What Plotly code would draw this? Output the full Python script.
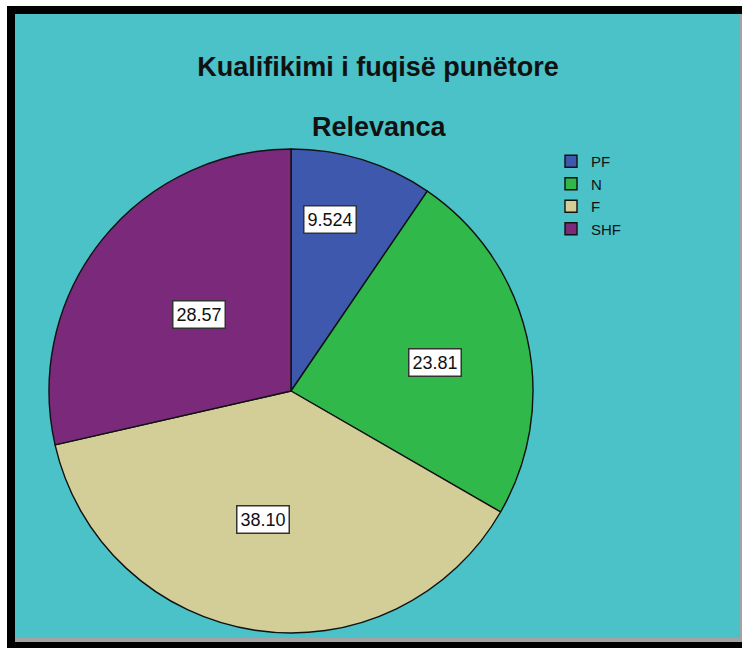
import math
import plotly.graph_objects as go

# Relevanca shares (percent of respondents)
categories = ["PF", "N", "F", "SHF"]
values = [9.524, 23.81, 38.10, 28.57]
slice_colors = ["#3E58AD", "#30B84A", "#D3CE98", "#7B2A7B"]

W, H = 742, 648
BG = "#4AC2C7"
FONT = "Liberation Sans, Arial"

# pie geometry in pixels
cx_px, cy_px, r_px = 291, 391, 242
# value box placement: fraction of radius and small angular nudge (degrees)
label_radius = [0.725, 0.607, 0.545, 0.493]
label_nudge = [-4.3, 1.5, 3.6, 1.0]

fig = go.Figure()
fig.add_trace(go.Pie(
    labels=categories,
    values=values,
    sort=False,
    direction="clockwise",
    rotation=0,
    marker=dict(colors=slice_colors, line=dict(color="#111111", width=1.4)),
    textinfo="none",
    hoverinfo="label+value",
    domain=dict(x=[(cx_px - r_px) / W, (cx_px + r_px) / W],
                y=[1 - (cy_px + r_px) / H, 1 - (cy_px - r_px) / H]),
))

# value boxes near the middle angle of each slice
total = sum(values)
cum = 0.0
annotations = []
for v, f, nudge in zip(values, label_radius, label_nudge):
    mid = (cum + v / 2) / total * 2 * math.pi + math.radians(nudge)
    cum += v
    px = cx_px + r_px * f * math.sin(mid)
    py = cy_px - r_px * f * math.cos(mid)
    annotations.append(dict(
        x=px / W, y=1 - py / H, xref="paper", yref="paper",
        xanchor="center", yanchor="middle",
        text=f"{v:#.4g}", showarrow=False,
        font=dict(family=FONT, size=18, color="#111111"),
        bgcolor="white", bordercolor="#333333", borderwidth=1.5, borderpad=3,
    ))

annotations.append(dict(
    x=379 / W, y=1 - 127 / H, xref="paper", yref="paper",
    xanchor="center", yanchor="middle",
    text="<b>Relevanca</b>", showarrow=False,
    font=dict(family=FONT, size=27, color="#111111"),
))

shapes = [
    # frame
    dict(type="rect", xref="paper", yref="paper", layer="below",
         x0=7 / W, x1=1, y0=0, y1=1 - 6 / H,
         fillcolor="black", line=dict(width=0)),
    dict(type="rect", xref="paper", yref="paper", layer="below",
         x0=15 / W, x1=1, y0=1 - 642 / H, y1=1 - 14 / H,
         fillcolor="#A3A3A3", line=dict(width=0)),
    dict(type="rect", xref="paper", yref="paper", layer="below",
         x0=15 / W, x1=740 / W, y0=1 - 638 / H, y1=1 - 14 / H,
         fillcolor=BG, line=dict(width=0)),
]

fig.update_layout(
    width=W, height=H,
    margin=dict(l=0, r=0, t=0, b=0),
    paper_bgcolor="white",
    plot_bgcolor=BG,
    title=dict(
        text="<b>Kualifikimi i fuqisë punëtore</b>",
        x=378 / W, xanchor="center", y=1 - 67 / H, yanchor="middle",
        font=dict(family=FONT, size=27, color="#111111"),
    ),
    legend=dict(
        x=551 / W, xanchor="left", y=1 - 145 / H, yanchor="top",
        bgcolor="rgba(0,0,0,0)", borderwidth=0,
        font=dict(family=FONT, size=15, color="#111111"),
        tracegroupgap=0, itemwidth=30,
    ),
    annotations=annotations,
    shapes=shapes,
)

fig.write_html("out.html")
